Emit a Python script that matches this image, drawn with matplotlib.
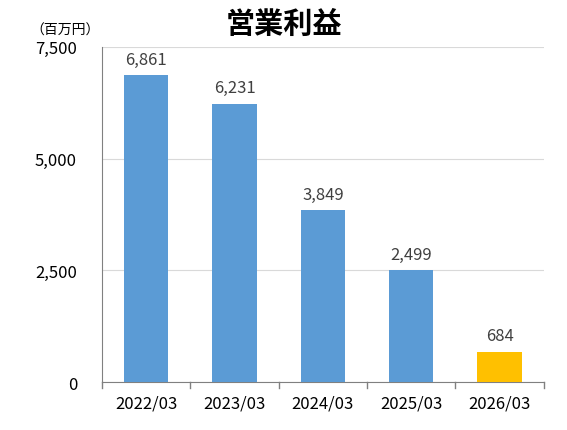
import matplotlib.pyplot as plt
from matplotlib.ticker import FuncFormatter

plt.rcParams['font.family'] = ['Noto Sans CJK JP', 'DejaVu Sans']

# data
years = ['2022/03', '2023/03', '2024/03', '2025/03', '2026/03']
profit = [6861, 6231, 3849, 2499, 684]
colors = ['#5B9BD5', '#5B9BD5', '#5B9BD5', '#5B9BD5', '#FFC000']

fig = plt.figure(figsize=(5.67, 4.31), dpi=100)
ax = fig.add_axes([0.180, 0.111, 0.779, 0.778])

x = range(len(years))
bars = ax.bar(x, profit, width=0.5, color=colors, zorder=3)

for xi, v in zip(x, profit):
    ax.text(xi, v + 170, f'{v:,}', ha='center', va='bottom', fontsize=12, color='#404040')

ax.set_xlim(-0.5, len(years) - 0.5)
ax.set_ylim(0, 7500)
ax.set_yticks([0, 2500, 5000, 7500])
ax.yaxis.set_major_formatter(FuncFormatter(lambda v, p: f'{int(v):,}'))
ax.set_xticks(x)
ax.set_xticklabels(years)
ax.tick_params(axis='y', length=0, labelsize=12, pad=18)
ax.tick_params(axis='x', length=0, labelsize=12, pad=9)

# category boundary tick marks on the x axis
for b in [i - 0.5 for i in range(len(years) + 1)]:
    ax.plot([b, b], [0, -0.018], transform=ax.get_xaxis_transform(), color='#808080',
            lw=1, clip_on=False)

ax.grid(axis='y', color='#D9D9D9', lw=0.8, zorder=0)
for s in ['top', 'right']:
    ax.spines[s].set_visible(False)
ax.spines['left'].set_color('#808080')
ax.spines['bottom'].set_color('#808080')

fig.text(0.50, 0.945, '営業利益', ha='center', va='center', fontsize=21, fontweight='bold')
fig.text(0.115, 0.928, '（百万円）', ha='center', va='center', fontsize=10)

fig.savefig('out.png', dpi=100)
